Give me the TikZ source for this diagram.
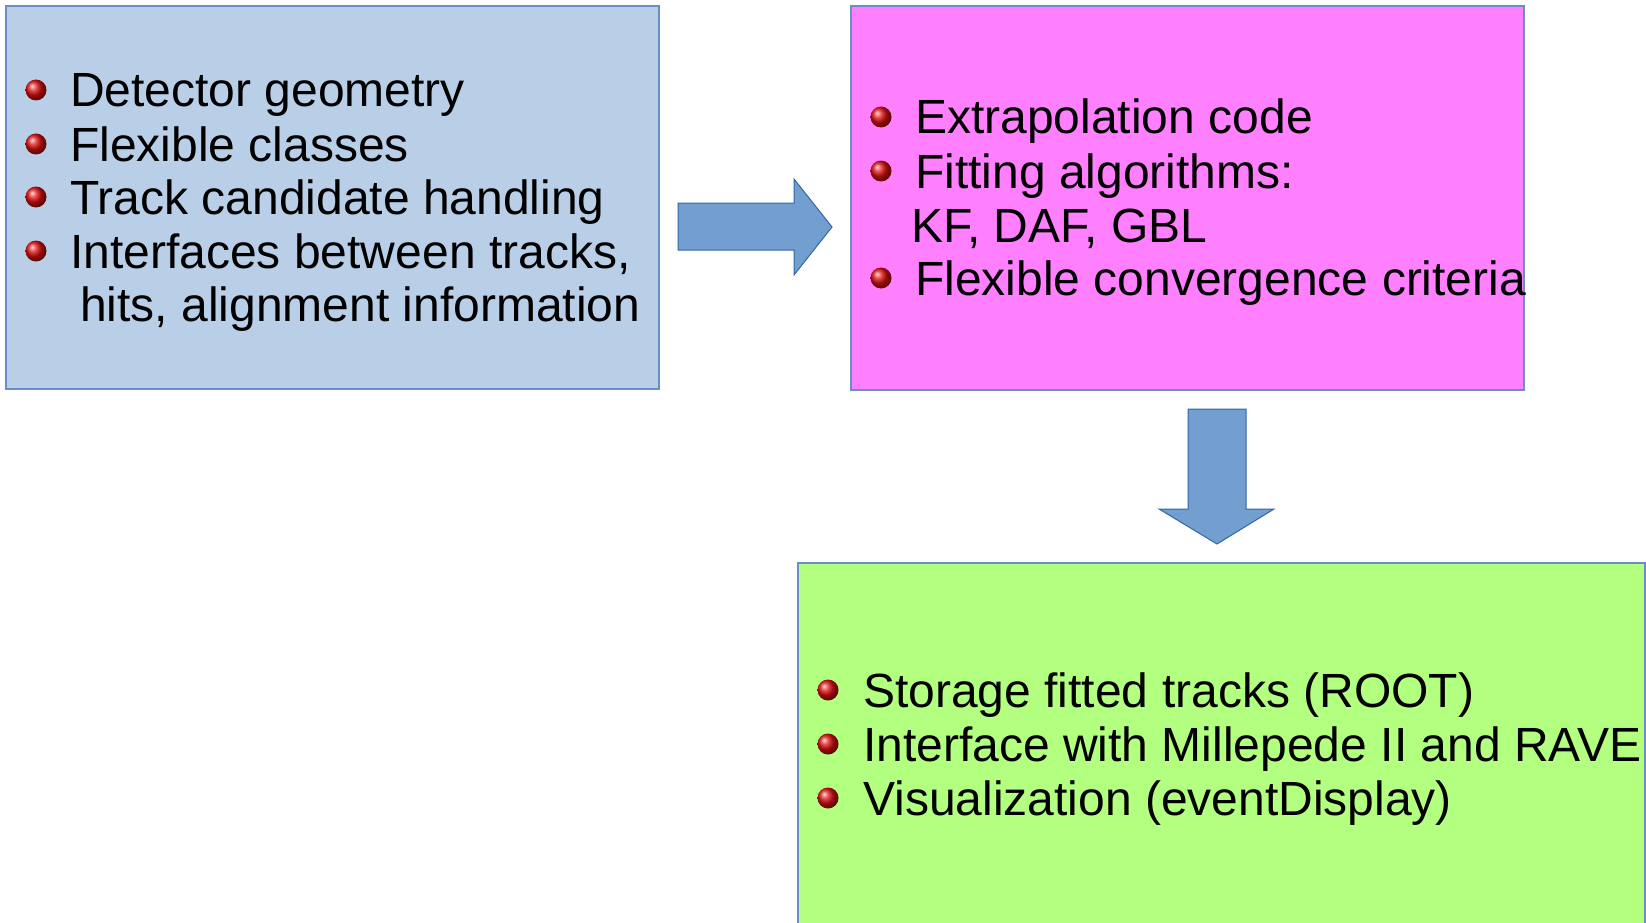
\documentclass[tikz,border=0pt]{standalone}
\usepackage{fontspec}
\setmainfont{Liberation Sans}
\usetikzlibrary{shadings}
\definecolor{boxblue}{HTML}{B9CFE7}
\definecolor{boxpink}{HTML}{FF80FF}
\definecolor{boxgreen}{HTML}{B3FF80}
\definecolor{edgeblue}{HTML}{6A8FC8}
\definecolor{arrowfill}{HTML}{729FCF}
\definecolor{arrowedge}{HTML}{3465A4}
\definecolor{bulletred}{HTML}{E01010}
\tikzset{
  panel/.style={draw=edgeblue, line width=1.1pt},
  item/.style={anchor=base west, inner sep=0pt, font=\fontsize{48pt}{53.6pt}\selectfont},
  bigarrow/.style={fill=arrowfill, draw=arrowedge, line width=1pt, line join=miter},
}
\newcommand{\redball}[2]{\shade[ball color=bulletred] (#1,#2) circle[radius=10.5pt];}
\begin{document}
\begin{tikzpicture}[x=1pt,y=-1pt]
\useasboundingbox (0,0) rectangle (1646,923);
% boxes
\path[panel, fill=boxblue] (6,6) rectangle (659,389);
\path[panel, fill=boxpink] (851,6) rectangle (1524,390);
\path[panel, fill=boxgreen] (798,563) rectangle (1645,930);
% arrows
\path[bigarrow] (678,203) -- (794,203) -- (794,179) -- (832,227) -- (794,275) -- (794,250) -- (678,250) -- cycle;
\path[bigarrow] (1188,409) -- (1246,409) -- (1246,509) -- (1274,509) -- (1217,544) -- (1159,509) -- (1188,509) -- cycle;
% blue box text
\redball{36}{90}
\redball{36}{144}
\redball{36}{197}
\redball{36}{251}
\node[item] (b1) at (70,107) {Detector geometry};
\node[item] (b2) at (70,161) {Flexible classes};
\node[item] (b3) at (70,214) {Track candidate handling};
\node[item] (b4) at (70,268) {Interfaces between tracks,};
\node[item] (b5) at (80,321) {hits, alignment information};
% pink box text
\redball{881}{117}
\redball{881}{171}
\redball{881}{278}
\node[item] (p1) at (915,134) {Extrapolation code};
\node[item] (p2) at (915,188) {Fitting algorithms:};
\node[item] (p3) at (911,242) {KF, DAF, GBL};
\node[item] (p4) at (915,295) {Flexible convergence criteria};
% green box text
\redball{828}{690}
\redball{828}{744}
\redball{828}{798}
\node[item] (g1) at (863,707) {Storage fitted tracks (ROOT)};
\node[item] (g2) at (863,761) {Interface with Millepede II and RAVE};
\node[item] (g3) at (863,815) {Visualization (eventDisplay)};
\end{tikzpicture}
\end{document}
